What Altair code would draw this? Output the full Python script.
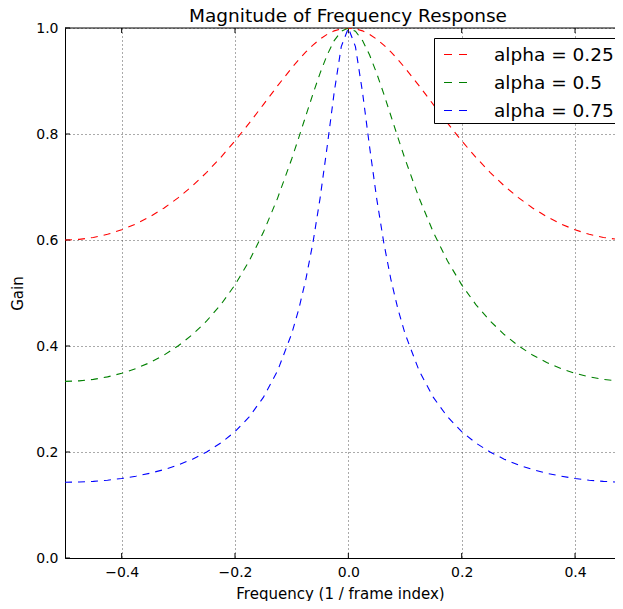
import altair as alt
import pandas as pd

freq = [-0.5, -0.475, -0.45, -0.425, -0.4, -0.375, -0.35, -0.325, -0.3, -0.275,
        -0.25, -0.225, -0.2, -0.175, -0.15, -0.125, -0.1, -0.0875, -0.075, -0.0625,
        -0.05, -0.0375, -0.025, -0.0125, 0.0, 0.0125, 0.025, 0.0375, 0.05, 0.0625,
        0.075, 0.0875, 0.1, 0.125, 0.15, 0.175, 0.2, 0.225, 0.25, 0.275,
        0.3, 0.325, 0.35, 0.375, 0.4, 0.425, 0.45, 0.475, 0.5]

gain_025 = [0.6, 0.6012, 0.6048, 0.6107, 0.6192, 0.6303, 0.6440, 0.6605, 0.6799, 0.7022,
            0.7276, 0.7560, 0.7871, 0.8205, 0.8555, 0.8907, 0.9246, 0.9403, 0.9548, 0.9678,
            0.9789, 0.9880, 0.9946, 0.9986, 1.0, 0.9986, 0.9946, 0.9880, 0.9789, 0.9678,
            0.9548, 0.9403, 0.9246, 0.8907, 0.8555, 0.8205, 0.7871, 0.7560, 0.7276, 0.7022,
            0.6799, 0.6605, 0.6440, 0.6303, 0.6192, 0.6107, 0.6048, 0.6012, 0.6]

gain_050 = [0.3333, 0.3342, 0.3370, 0.3417, 0.3485, 0.3574, 0.3688, 0.3830, 0.4004, 0.4216,
            0.4472, 0.4781, 0.5154, 0.5604, 0.6144, 0.6786, 0.7529, 0.7932, 0.8345, 0.8756,
            0.9145, 0.9489, 0.9763, 0.9939, 1.0, 0.9939, 0.9763, 0.9489, 0.9145, 0.8756,
            0.8345, 0.7932, 0.7529, 0.6786, 0.6144, 0.5604, 0.5154, 0.4781, 0.4472, 0.4216,
            0.4004, 0.3830, 0.3688, 0.3574, 0.3485, 0.3417, 0.3370, 0.3342, 0.3333]

gain_075 = [0.1429, 0.1433, 0.1446, 0.1468, 0.1500, 0.1544, 0.1599, 0.1669, 0.1756, 0.1865,
            0.2000, 0.2170, 0.2385, 0.2663, 0.3030, 0.3529, 0.4232, 0.4695, 0.5259, 0.5948,
            0.6781, 0.7754, 0.8786, 0.9650, 1.0, 0.9650, 0.8786, 0.7754, 0.6781, 0.5948,
            0.5259, 0.4695, 0.4232, 0.3529, 0.3030, 0.2663, 0.2385, 0.2170, 0.2000, 0.1865,
            0.1756, 0.1669, 0.1599, 0.1544, 0.1500, 0.1468, 0.1446, 0.1433, 0.1429]

series_names = ["alpha = 0.25", "alpha = 0.5", "alpha = 0.75"]
series_colors = ["#ff0000", "#008000", "#0000ff"]
x_ticks = [-0.4, -0.2, 0.0, 0.2, 0.4]
y_ticks = [0.0, 0.2, 0.4, 0.6, 0.8, 1.0]

rows = []
for name, vals in zip(series_names, [gain_025, gain_050, gain_075]):
    for f, g in zip(freq, vals):
        rows.append({"freq": f, "gain": g, "series": name})
df = pd.DataFrame(rows)

W, H = 550, 530
FONT = "DejaVu Sans"

xscale = alt.Scale(domain=[-0.5, 0.4705], nice=False, zero=False)
yscale = alt.Scale(domain=[0, 1], nice=False)

lines = alt.Chart(df).mark_line(strokeWidth=1.1, strokeDash=[7, 6], clip=True).encode(
    x=alt.X("freq:Q", scale=xscale,
            axis=alt.Axis(values=x_ticks, format=".1f", title="Frequency (1 / frame index)")),
    y=alt.Y("gain:Q", scale=yscale,
            axis=alt.Axis(values=y_ticks, format=".1f", title="Gain")),
    color=alt.Color("series:N", sort=series_names,
                    scale=alt.Scale(domain=series_names, range=series_colors),
                    legend=alt.Legend(title=None, orient="none", legendX=369, legendY=10,
                                      symbolType="stroke", symbolSize=625,
                                      symbolStrokeWidth=1.2, symbolDash=[8, 7],
                                      strokeColor="black", fillColor="white",
                                      padding=3, symbolOffset=6, labelOffset=24,
                                      rowPadding=5, labelFontSize=18.5, labelFont=FONT,
                                      labelColor="black")),
)

xt = pd.DataFrame({"v": x_ticks})
yt = pd.DataFrame({"v": y_ticks})
top_edge = pd.DataFrame({"v": [1.0]})

xtick_bottom = alt.Chart(xt).mark_rule(color="black", strokeWidth=1).encode(
    x=alt.X("v:Q", scale=xscale), y=alt.value(H), y2=alt.value(H - 5))
xtick_top = alt.Chart(xt).mark_rule(color="black", strokeWidth=1).encode(
    x=alt.X("v:Q", scale=xscale), y=alt.value(0), y2=alt.value(5))
ytick_left = alt.Chart(yt).mark_rule(color="black", strokeWidth=1).encode(
    y=alt.Y("v:Q", scale=yscale), x=alt.value(0), x2=alt.value(5))
top_border = alt.Chart(top_edge).mark_rule(color="black", strokeWidth=1).encode(
    y=alt.Y("v:Q", scale=yscale))

chart = alt.layer(top_border, xtick_bottom, xtick_top, ytick_left, lines).properties(
    width=W, height=H,
    title=alt.TitleParams("Magnitude of Frequency Response", font=FONT, fontSize=18.5,
                          fontWeight="normal", color="black", anchor="middle",
                          dx=8, dy=19.5, offset=0, baseline="alphabetic"),
    autosize=alt.AutoSizeParams(type="none"),
    padding={"left": 57, "top": 20, "right": 0, "bottom": 43},
).configure_view(
    strokeWidth=0
).configure_axis(
    labelFont=FONT, labelFontSize=14, labelColor="black",
    titleFont=FONT, titleFontSize=15, titleFontWeight="normal", titleColor="black",
    grid=True, gridColor="#555555", gridDash=[1, 3], gridWidth=1, gridOpacity=1,
    domain=True, domainColor="black", domainWidth=1,
    ticks=False, labelPadding=7,
).configure_axisX(
    titlePadding=7
).configure_axisY(
    titlePadding=10
)

chart.save("out.html", embed_options={"renderer": "svg", "actions": False})
